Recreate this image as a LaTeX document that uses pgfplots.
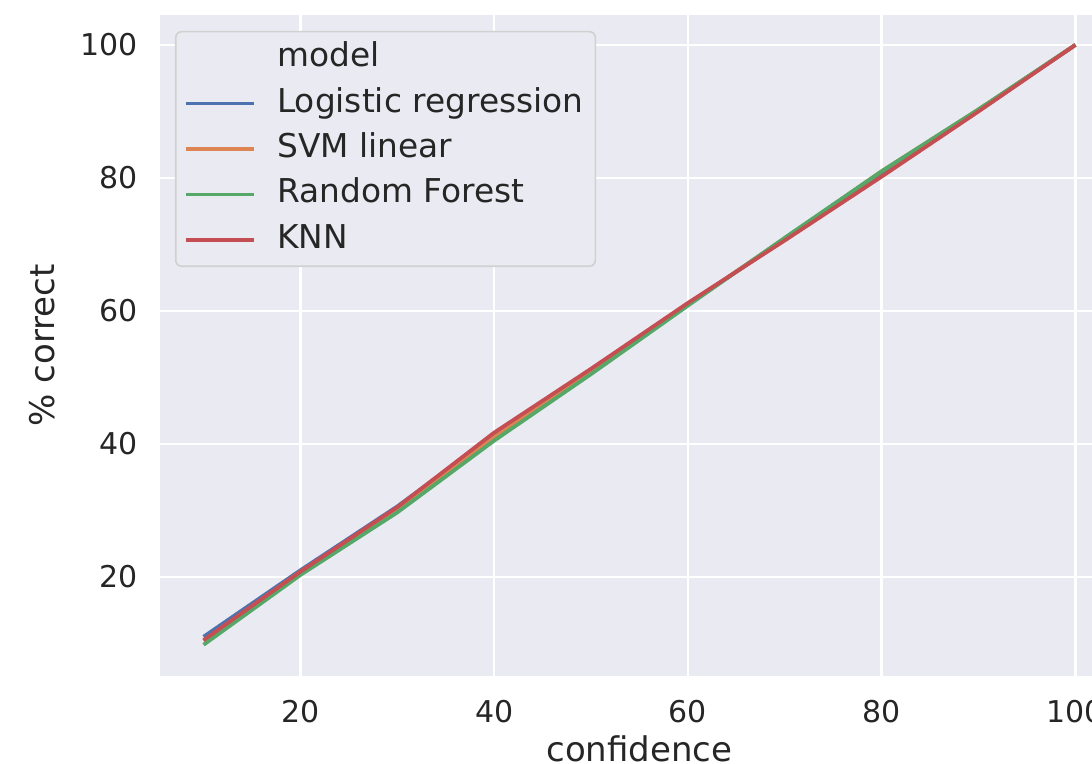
\documentclass[border=0pt]{standalone}
\usepackage{fontspec}
\setmainfont{DejaVu Sans}
\usepackage{pgfplots}
\pgfplotsset{compat=1.18}
\usetikzlibrary{calc}
\definecolor{sbbg}{HTML}{EAEAF2}
\definecolor{sbtext}{HTML}{262626}
\definecolor{sbblue}{HTML}{4C72B0}
\definecolor{sborange}{HTML}{DD8452}
\definecolor{sbgreen}{HTML}{55A868}
\definecolor{sbred}{HTML}{C44E52}
\newcommand{\tickfont}{\fontsize{15}{18}\selectfont}
\newcommand{\labfont}{\fontsize{17}{20}\selectfont}
\newcommand{\legfont}{\fontsize{16.4}{19}\selectfont}

\begin{document}
\begin{tikzpicture}
\begin{axis}[
  scale only axis, width=479.5pt, height=330.5pt,
  xmin=5.5, xmax=104.5, ymin=5.1, ymax=104.5,
  xtick={20,40,60,80,100}, ytick={20,40,60,80,100},
  /pgf/number format/assume math mode=true,
  axis background/.style={fill=sbbg},
  axis line style={draw=none}, tick style={draw=none},
  grid=major, major grid style={white, line width=1.2pt},
  tick label style={font=\tickfont, text=sbtext},
  xticklabel style={yshift=-8.5pt}, yticklabel style={xshift=-7.5pt},
  label style={font=\labfont, text=sbtext},
  xlabel={confidence}, ylabel={\% correct},
  xlabel style={yshift=0.5pt}, ylabel style={yshift=6pt},
  legend style={at={(0.0156,0.976)}, anchor=north west, font=\legfont,
    fill=sbbg, draw=black!18, line width=0.8pt, rounded corners=3pt,
    text=sbtext, inner xsep=4pt, inner ysep=4pt, row sep=4.2pt,
    nodes={text height=11.5pt, text depth=3pt},
    /tikz/every odd column/.append style={column sep=9pt}},
  legend cell align=left,
  legend image code/.code={\draw[#1, line width=1.75pt] (0pt,0pt) -- (34pt,0pt);},
  every axis plot/.append style={line width=1.9pt},
]
\addlegendimage{empty legend}
\addlegendentry{model}
\addplot[sbblue] coordinates {
  (10,11.0) (20,21.0) (30,30.6) (40,41.3) (50,51.2) (60,61.0) (70,70.8) (80,80.7) (90,90.2) (100,100)};
\addlegendentry{Logistic regression}
\addplot[sborange] coordinates {
  (10,10.4) (20,20.8) (30,30.3) (40,41.0) (50,51.0) (60,61.0) (70,70.9) (80,81.0) (90,90.3) (100,100)};
\addlegendentry{SVM linear}
\addplot[sbgreen] coordinates {
  (10,9.8) (20,20.3) (30,29.7) (40,40.5) (50,50.5) (60,60.8) (70,71.0) (80,81.0) (90,90.3) (100,100)};
\addlegendentry{Random Forest}
\addplot[sbred] coordinates {
  (10,10.5) (20,20.8) (30,30.5) (40,41.7) (50,51.3) (60,61.2) (70,70.6) (80,80.2) (90,90.0) (100,100)};
\addlegendentry{KNN}
\end{axis}
\pgfresetboundingbox
\useasboundingbox ($(current axis.south west)+(-80pt,-44pt)$) rectangle ($(current axis.north west)+(466pt,7.5pt)$);
\end{tikzpicture}
\end{document}
